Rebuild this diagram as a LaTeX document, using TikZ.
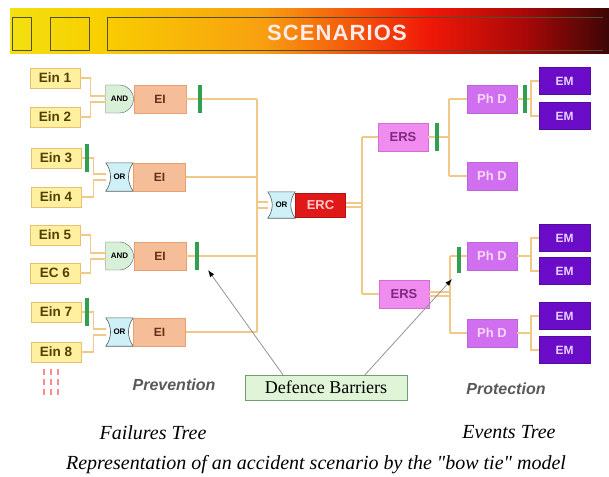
\documentclass[tikz,border=0pt]{standalone}
\usepackage{fontspec}
\setmainfont{Liberation Serif}
\setsansfont{Liberation Sans}
\newfontfamily\piefont{Liberation Serif}
\usetikzlibrary{shapes.misc,arrows.meta,backgrounds}

\definecolor{einfondo}{HTML}{FFF0A0}
\definecolor{einborde}{HTML}{E8C070}
\definecolor{eintexto}{HTML}{504000}
\definecolor{andfondo}{HTML}{D8F0D8}
\definecolor{orfondo}{HTML}{D0F0F8}
\definecolor{puertaborde}{HTML}{506060}
\definecolor{eifondo}{HTML}{F5BE98}
\definecolor{eiborde}{HTML}{E8A070}
\definecolor{eitexto}{HTML}{603018}
\definecolor{ercfondo}{HTML}{E01818}
\definecolor{erctexto}{HTML}{FFC8C8}
\definecolor{ersfondo}{HTML}{F08CF0}
\definecolor{ersborde}{HTML}{D070D0}
\definecolor{erstexto}{HTML}{802880}
\definecolor{phdfondo}{HTML}{D070F0}
\definecolor{phdtexto}{HTML}{F8D8F8}
\definecolor{emfondo}{HTML}{6A0CC8}
\definecolor{emtexto}{HTML}{E8D0FF}
\definecolor{cablec}{HTML}{F0C888}
\definecolor{verde}{HTML}{30A050}
\definecolor{deffondo}{HTML}{E0F5D8}
\definecolor{defborde}{HTML}{70A070}
\definecolor{bannerA}{HTML}{F2E010}
\definecolor{bannerB}{HTML}{F8D000}
\definecolor{bannerC}{HTML}{F8A010}
\definecolor{bannerD}{HTML}{F01808}
\definecolor{bannerE}{HTML}{A80808}
\definecolor{bannerF}{HTML}{3C0606}

\pgfdeclarehorizontalshading{banda}{100bp}{color(0bp)=(bannerA); color(25bp)=(bannerA);
  color(32bp)=(bannerB); color(46bp)=(bannerC); color(60bp)=(bannerD);
  color(68bp)=(bannerE); color(75bp)=(bannerF); color(100bp)=(bannerF)}

\begin{document}
\begin{tikzpicture}[x=1pt, y=-1pt,
    every node/.style={inner sep=0pt, font=\sffamily\bfseries},
    caja/.style={draw=#1, line width=.6, minimum width=50, minimum height=28},
    ein/.style={caja=einborde, fill=einfondo, minimum height=20, text=eintexto,
        font=\sffamily\bfseries\fontsize{13.5}{13.5}\selectfont},
    puertay/.style={rounded rectangle, rounded rectangle west arc=none,
        draw=puertaborde, fill=andfondo, minimum width=27, minimum height=28,
        font=\sffamily\bfseries\fontsize{8}{8}\selectfont},
    puertao/.style={minimum width=27, minimum height=28,
        font=\sffamily\bfseries\fontsize{8}{8}\selectfont},
    contornoo/.style={draw=puertaborde, fill=orfondo, line width=.6},
    ei/.style={caja=eiborde, fill=eifondo, minimum width=52, text=eitexto,
        font=\sffamily\bfseries\fontsize{12}{12}\selectfont},
    erc/.style={caja=ercfondo!80!black, fill=ercfondo, minimum height=24,
        text=erctexto, font=\sffamily\bfseries\fontsize{13}{13}\selectfont},
    ers/.style={caja=ersborde, fill=ersfondo, text=erstexto,
        font=\sffamily\bfseries\fontsize{13}{13}\selectfont},
    phd/.style={caja=phdfondo!90!black, fill=phdfondo, text=phdtexto,
        font=\sffamily\bfseries\fontsize{13}{13}\selectfont},
    em/.style={caja=emfondo!80!black, fill=emfondo, minimum width=51,
        minimum height=27, text=emtexto,
        font=\sffamily\bfseries\fontsize{12}{12}\selectfont},
    barrera/.style={fill=verde, minimum width=3.5, minimum height=28},
    cable/.style={draw=cablec, line width=1.4},
    flecha/.style={draw=gray!85, line width=.8,
        -{Latex[length=7pt, width=5pt, color=black]}},
    zona/.style={text=black!65, font=\sffamily\bfseries\itshape\fontsize{16}{16}\selectfont},
    arbol/.style={font=\piefont\itshape\fontsize{20}{20}\selectfont}]
    \useasboundingbox (0,0) rectangle (609,476);

    % Banda del titulo.
    \shade[shading=banda] (10,9) rectangle (609,54);
    \draw[black!55!olive, line width=1] (12,17.5) rectangle (31,50.5);
    \draw[black!55!olive, line width=1] (50,17.5) rectangle (89,50.5);
    \draw[black!55!olive, line width=1] (603,17.5) -| (107,50.5) -- (603,50.5);
    \node[text=white!92!red,
        font=\sffamily\bfseries\fontsize{22}{22}\selectfont\addfontfeature{LetterSpace=5}]
        (titulo) at (337,33) {SCENARIOS};

    % Sucesos iniciadores.
    \node[ein] (e1) at (55,78) {Ein 1};
    \node[ein] (e2) at (55,117) {Ein 2};
    \node[ein] (e3) at (56,158) {Ein 3};
    \node[ein] (e4) at (56,197) {Ein 4};
    \node[ein] (e5) at (55,235) {Ein 5};
    \node[ein] (e6) at (55,273) {EC 6};
    \node[ein] (e7) at (56,312) {Ein 7};
    \node[ein] (e8) at (56,352) {Ein 8};
    \foreach \px in {44,51,58}
        \draw[red!45, line width=2, dash pattern=on 6pt off 4pt] (\px,369) -- (\px,398);

    % Puertas y sucesos intermedios.
    \node[puertay] (g1) at (119.5,99) {AND};
    \node[ei, anchor=west] (ei1) at (g1.east) {EI};
    \node[puertao] (g2) at (119.5,177) {OR};
    \node[ei, anchor=west] (ei2) at (g2.east) {EI};
    \node[puertay] (g3) at (119.5,256) {AND};
    \node[ei, anchor=west] (ei3) at (g3.east) {EI};
    \node[puertao] (g4) at (119.5,332) {OR};
    \node[ei, anchor=west] (ei4) at (g4.east) {EI};

    % Suceso critico y lado derecho.
    \coordinate (izq) at (257,205);
    \coordinate (der) at (362,205);
    \node[puertao, minimum height=26] (gc) at (281.5,205) {OR};
    \node[erc, anchor=west] (erc) at (gc.east) {ERC};
    \node[ers] (ers1) at (403,137) {ERS};
    \node[ers] (ers2) at (404,294) {ERS};
    \coordinate (d1) at (449,137);
    \coordinate (d2) at (450,294);
    \coordinate (emx) at (531,0);
    \node[phd] (phd1) at (492,99) {Ph D};
    \node[phd] (phd2) at (492,176) {Ph D};
    \node[phd] (phd3) at (492,256) {Ph D};
    \node[phd] (phd4) at (492,333) {Ph D};
    \node[em] (em1) at (564.5,81) {EM};
    \node[em] (em2) at (564.5,116) {EM};
    \node[em] (em3) at (564.5,238) {EM};
    \node[em] (em4) at (564.5,271) {EM};
    \node[em] (em5) at (564.5,316) {EM};
    \node[em] (em6) at (564.5,350) {EM};

    % Contorno de las puertas OR, lados concavos.
    \begin{scope}[on background layer]
        \foreach \g in {g2,g4,gc}
            \draw[contornoo] (\g.north west) to[bend left=35] (\g.south west)
                -- (\g.south east) to[bend left=35] (\g.north east) -- cycle;
    \end{scope}

    % Cables del arbol de fallos.
    \draw[cable] (e1.east) -- ++(10,0) |- ([yshift=3pt]g1.west);
    \draw[cable] (e2.east) -- ++(10,0) |- ([yshift=-3pt]g1.west);
    \draw[cable] (e3.east) -- ++(12,0) |- ([yshift=3pt]g2.west);
    \draw[cable] (e4.east) -- ++(12,0) |- ([yshift=-3pt]g2.west);
    \draw[cable] (e5.east) -- ++(10,0) |- ([yshift=3pt]g3.west);
    \draw[cable] (e6.east) -- ++(10,0) |- ([yshift=-3pt]g3.west);
    \draw[cable] (e7.east) -- ++(12,0) |- ([yshift=3pt]g4.west);
    \draw[cable] (e8.east) -- ++(12,0) |- ([yshift=-3pt]g4.west);
    \foreach \n in {1,...,4}
        \draw[cable] (ei\n.east) -- (ei\n.east -| izq);
    \draw[cable] (ei1.east -| izq) -- (ei4.east -| izq);
    \draw[cable] ([yshift=3pt]gc.west -| izq) -- ([yshift=3pt]gc.west);
    \draw[cable] ([yshift=-3pt]gc.west -| izq) -- ([yshift=-3pt]gc.west);

    % Cables del arbol de sucesos.
    \draw[cable] ([yshift=2pt]erc.east) -- ([yshift=2pt]erc.east -| der);
    \draw[cable] ([yshift=-2pt]erc.east) -- ([yshift=-2pt]erc.east -| der);
    \draw[cable] (ers1.west -| der) -- (ers2.west -| der);
    \draw[cable] (ers1.west -| der) -- (ers1.west);
    \draw[cable] (ers2.west -| der) -- (ers2.west);
    \draw[cable] (ers1.east) -- (d1);
    \draw[cable] (phd1.west -| d1) -- (phd2.west -| d1);
    \draw[cable] (phd1.west -| d1) -- (phd1.west);
    \draw[cable] (phd2.west -| d1) -- (phd2.west);
    \draw[cable] ([yshift=2pt]ers2.east) -- ([yshift=2pt]ers2.east -| d2);
    \draw[cable] ([yshift=-2pt]ers2.east) -- ([yshift=-2pt]ers2.east -| d2);
    \draw[cable] (phd3.west -| d2) -- (phd4.west -| d2);
    \draw[cable] (phd3.west -| d2) -- (phd3.west);
    \draw[cable] (phd4.west -| d2) -- (phd4.west);
    \foreach \p/\a/\b in {1/1/2,3/3/4,4/5/6} {
        \draw[cable] (phd\p.east) -- (phd\p.east -| emx) |- (em\a.west);
        \draw[cable] (phd\p.east -| emx) |- (em\b.west);
    }

    % Barreras de defensa.
    \node[barrera] (b1) at (200,99) {};
    \node[barrera] (b2) at (87,158) {};
    \node[barrera] (b3) at (197,256) {};
    \node[barrera] (b4) at (87,312) {};
    \node[barrera] (b5) at (437,137) {};
    \node[barrera] (b6) at (525,99) {};
    \node[barrera, minimum height=26] (b7) at (459,260) {};
    \coordinate (p1) at (208,270);
    \coordinate (p2) at (452,279);

    % Leyenda y flechas.
    \node[draw=defborde, fill=deffondo, minimum width=162, minimum height=25,
        font=\piefont\fontsize{18}{18}\selectfont] (defensa) at (326,387.5)
        {Defence Barriers};
    \draw[flecha] ([xshift=-43pt]defensa.north) -- (p1);
    \draw[flecha] ([xshift=39pt]defensa.north) -- (p2);
    \node[zona] (prev) at (174,385) {Prevention};
    \node[zona] (prot) at (506,389) {Protection};
    \node[arbol] (ftree) at (153,433) {Failures Tree};
    \node[arbol] (etree) at (509,432) {Events Tree};
    \node[arbol] (pie) at (316,465) {Representation of an accident scenario by the "bow tie" model};
\end{tikzpicture}
\end{document}
